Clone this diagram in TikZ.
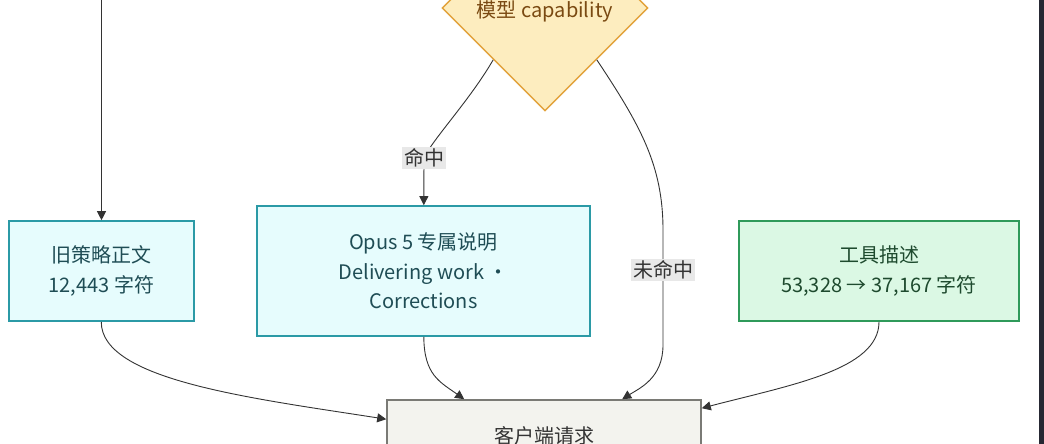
\documentclass[tikz,border=0pt]{standalone}
\usepackage{fontspec}
\setmainfont{Noto Sans CJK SC}
\usetikzlibrary{positioning,calc}
\usetikzlibrary{shapes.geometric, arrows.meta}
\definecolor{cyfill}{HTML}{E6FCFD}
\definecolor{cyline}{HTML}{2B9AA6}
\definecolor{cytext}{HTML}{1F4D55}
\definecolor{grfill}{HTML}{DBF8E4}
\definecolor{grline}{HTML}{2F9A5A}
\definecolor{grtext}{HTML}{1E4A2E}
\definecolor{yefill}{HTML}{FDEDBF}
\definecolor{yeline}{HTML}{E2A23B}
\definecolor{yetext}{HTML}{7A4A12}
\definecolor{rqfill}{HTML}{F3F3EE}
\definecolor{rqline}{HTML}{7A7A75}
\definecolor{lnk}{HTML}{333333}
\definecolor{lblfill}{HTML}{E8E8E8}
\definecolor{strip}{HTML}{262833}
\tikzset{
  cb/.style={rectangle, minimum width=185pt, minimum height=100pt, text centered, align=center, line width=1.6pt, draw=cyline, fill=cyfill, text=cytext},
  gb/.style={rectangle, minimum width=280pt, minimum height=100pt, text centered, align=center, line width=1.6pt, draw=grline, fill=grfill, text=grtext},
  rq/.style={rectangle, minimum width=314pt, minimum height=72pt, text centered, line width=1.6pt, draw=rqline, fill=rqfill, text=lnk},
  dc/.style={diamond, minimum size=206pt, inner sep=0pt, text centered, line width=1.4pt, draw=yeline, fill=yefill},
  lbl/.style={fill=lblfill, text=lnk, inner sep=2pt},
  lk/.style={draw=lnk, line width=0.9pt, -{Triangle[length=9pt,width=9pt]}},
  every node/.style={font=\fontsize{20}{29.5}\selectfont}
}
\begin{document}
\begin{tikzpicture}[x=1pt,y=-1pt]
	\useasboundingbox (0,0) rectangle (1044,444);
	\clip (0,0) rectangle (1044,444);
	\fill[white] (0,0) rectangle (1044,444);
	\fill[strip] (1039,0) rectangle (1044,444);
	%
	\node[dc] (cap) at (545,8) {};
	\node[text=yetext] (captxt) at (545,11) {模型 capability};
	\node[cb] (old) at (101.5,271) {旧策略正文\\12,443 字符};
	\node[cb, minimum width=333pt, minimum height=130pt] (opus) at (423.5,271) {Opus 5 专属说明\\Delivering work ·\\Corrections};
	\node[gb] (tool) at (879,271) {工具描述\\53,328 → 37,167 字符};
	\node[rq] (req) at (544,436) {客户端请求};
	\coordinate (topin) at (101.5,-20);
	%
	\draw[lk] (topin) -- (old);
	\draw[lk] (cap.south west) .. controls (470,100) and (432,140) .. (424,158) node[lbl] {命中} -- (opus);
	\draw[lk] (cap.south east) .. controls (640,125) and (663,165) .. (663,230) -- (663,270) node[lbl] {未命中} -- (663,345) .. controls (663,378) and (640,388) .. ([xshift=236pt]req.north west);
	\draw[lk] (old) .. controls (101,380) and (250,398) .. ([yshift=-20pt]req.north west);
	\draw[lk] (opus) .. controls (424,375) and (440,382) .. ([xshift=78pt]req.north west);
	\draw[lk] (tool) .. controls (879,370) and (790,385) .. ([yshift=-9pt]req.north east);
\end{tikzpicture}
\end{document}
